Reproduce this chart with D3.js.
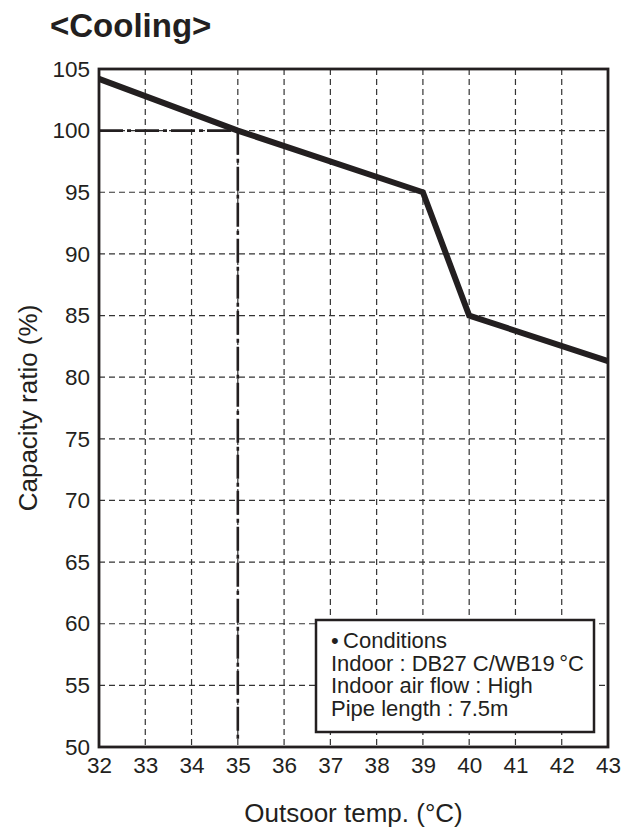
<!DOCTYPE html>
<html>
<head>
<meta charset="utf-8">
<script src="https://cdn.jsdelivr.net/npm/d3@7"></script>
<style>
  html, body { margin: 0; padding: 0; background: #fff; }
  svg { display: block; }
  text { font-family: "Liberation Sans", Arial, Helvetica, sans-serif; fill: #231f20; }
</style>
</head>
<body>
<svg id="chart" width="628" height="831"></svg>
<script>
// ---- data ----
const xTickLabels = [32, 33, 34, 35, 36, 37, 38, 39, 40, 41, 42, 43];
const yTickLabels = [50, 55, 60, 65, 70, 75, 80, 85, 90, 95, 100, 105];
const temps = [32, 35, 39, 40, 43];
const capacity = [104.2, 100, 95, 85, 81.3];
const refTemp = 35;
const refCapacity = 100;
const conditionLines = [
  "\u2022\u2009Conditions",
  "Indoor : DB27 C/WB19\u2009\u00B0C",
  "Indoor air flow : High",
  "Pipe length : 7.5m"
];
const titleText = "<Cooling>";
const xTitle = "Outsoor temp. (\u00B0C)";
const yTitle = "Capacity ratio (%)";

// ---- layout ----
const ink = "#231f20";
const margin = { left: 99, top: 69, right: 628 - 608, bottom: 831 - 747 };
const W = 628, H = 831;
const svg = d3.select("#chart");

const x = d3.scaleLinear().domain([32, 43]).range([margin.left, W - margin.right]);
const y = d3.scaleLinear().domain([50, 105]).range([H - margin.bottom, margin.top]);

// grid
const grid = svg.append("g").attr("stroke", "#333").attr("stroke-width", 1.2)
  .attr("stroke-dasharray", "6,4");
grid.selectAll("line.v").data(xTickLabels.slice(1, -1)).join("line")
  .attr("x1", d => x(d)).attr("x2", d => x(d))
  .attr("y1", y(105)).attr("y2", y(50));
grid.selectAll("line.h").data(yTickLabels.slice(1, -1)).join("line")
  .attr("x1", x(32)).attr("x2", x(43))
  .attr("y1", d => y(d)).attr("y2", d => y(d));

// reference dash-dot lines
const ref = svg.append("g").attr("stroke", ink).attr("stroke-width", 2.6)
  .attr("stroke-dasharray", "24,4,4,4").attr("fill", "none");
ref.append("line")
  .attr("x1", x(32)).attr("x2", x(refTemp))
  .attr("y1", y(refCapacity)).attr("y2", y(refCapacity));
ref.append("line")
  .attr("x1", x(refTemp)).attr("x2", x(refTemp))
  .attr("y1", y(refCapacity)).attr("y2", y(50) - 7);

// legend box
const box = svg.append("g");
box.append("rect")
  .attr("x", 316).attr("y", 620).attr("width", 278).attr("height", 112)
  .attr("fill", "#fff").attr("stroke", ink).attr("stroke-width", 2.5);
box.selectAll("text").data(conditionLines).join("text")
  .attr("x", 331).attr("y", (d, i) => 648 + i * 22.6)
  .attr("font-size", 22)
  .text(d => d);

// data line
const pts = temps.map((t, i) => [t, capacity[i]]);
svg.append("path")
  .datum(pts)
  .attr("fill", "none").attr("stroke", ink).attr("stroke-width", 6)
  .attr("stroke-linejoin", "miter")
  .attr("d", d3.line().x(d => x(d[0])).y(d => y(d[1])));

// frame
svg.append("rect")
  .attr("x", x(32)).attr("y", y(105))
  .attr("width", x(43) - x(32)).attr("height", y(50) - y(105))
  .attr("fill", "none").attr("stroke", ink).attr("stroke-width", 2.8);

// axes (labels only)
const xAxis = d3.axisBottom(x).tickValues(xTickLabels).tickSize(0).tickPadding(10)
  .tickFormat(d3.format("d"));
const gx = svg.append("g").attr("transform", `translate(0,${y(50)})`).call(xAxis);
gx.select(".domain").remove();
gx.selectAll("text").attr("font-size", 22.5).attr("fill", ink)
  .attr("font-family", "'Liberation Sans', Arial, sans-serif");

const yAxis = d3.axisLeft(y).tickValues(yTickLabels).tickSize(0).tickPadding(9)
  .tickFormat(d3.format("d"));
const gy = svg.append("g").attr("transform", `translate(${x(32)},0)`).call(yAxis);
gy.select(".domain").remove();
gy.selectAll("text").attr("font-size", 22.5).attr("fill", ink)
  .attr("font-family", "'Liberation Sans', Arial, sans-serif");

// titles
svg.append("text").attr("x", 50).attr("y", 37)
  .attr("font-size", 33).attr("font-weight", "bold").text(titleText);

svg.append("text").attr("x", (x(32) + x(43)) / 2).attr("y", 822)
  .attr("text-anchor", "middle").attr("font-size", 26).text(xTitle);

svg.append("text")
  .attr("transform", `translate(37,${(y(50) + y(105)) / 2}) rotate(-90)`)
  .attr("text-anchor", "middle").attr("font-size", 26).text(yTitle);
</script>
</body>
</html>
